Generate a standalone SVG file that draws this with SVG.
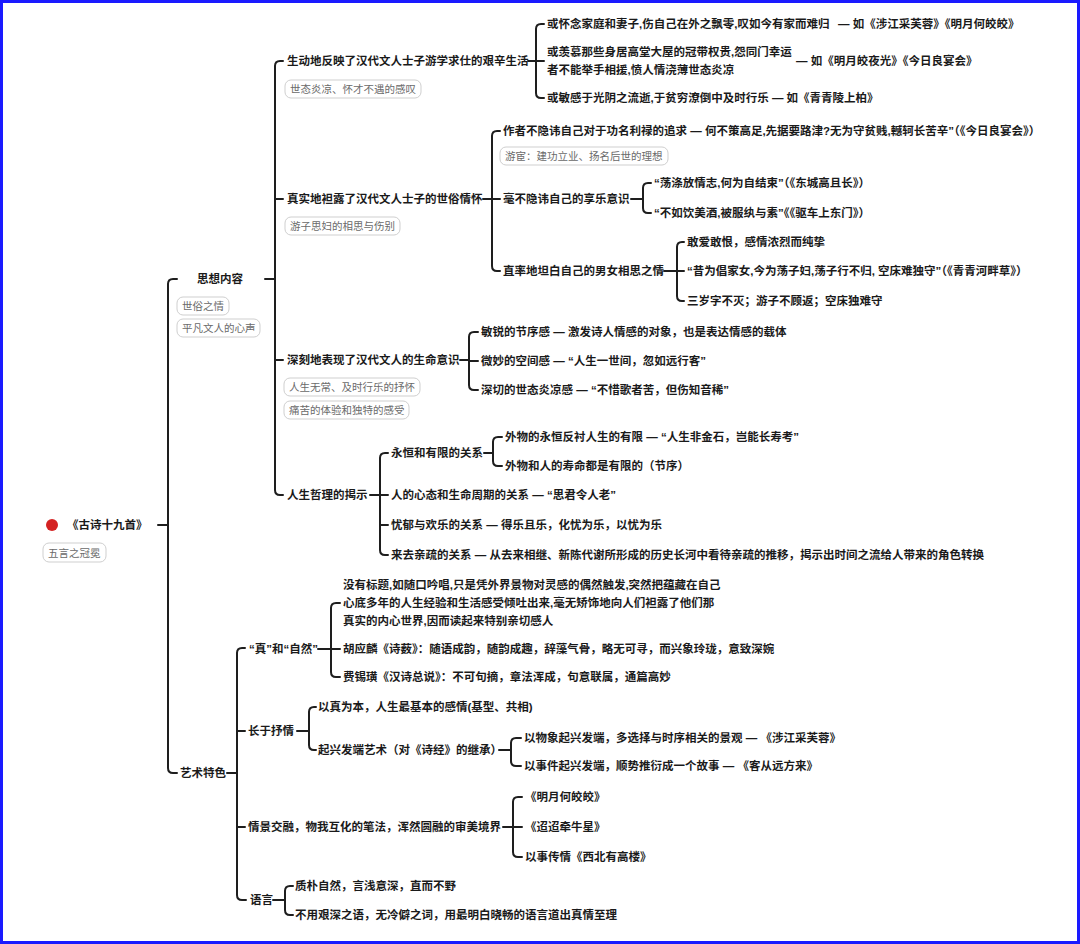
<svg xmlns="http://www.w3.org/2000/svg" width="1080" height="944" viewBox="0 0 1080 944">
<style>
.t{font-family:"Liberation Sans","Noto Sans CJK SC",sans-serif;font-size:11.5px;fill:#1a1a1a;font-weight:700}
.lb{font-family:"Liberation Sans","Noto Sans CJK SC",sans-serif;font-size:10.5px;fill:#6a6a6a;font-weight:400}
.box{fill:#fff;stroke:#cfcfcf;stroke-width:1}
.c{fill:none;stroke:#1e1e1e;stroke-width:2;stroke-linecap:round;stroke-linejoin:round}
</style>
<rect x="0" y="0" width="1080" height="944" fill="#fff"/>
<rect x="1.5" y="1.5" width="1077" height="941" fill="none" stroke="#1a1aff" stroke-width="3"/>
<g id="connectors">
<path class="c" d="M158,525 H168 M177,279 H173 Q168,279 168,284 V768 Q168,773 173,773 H177"/>
<path class="c" d="M265,279 H275 M283,61 H280 Q275,61 275,66 V490 Q275,495 280,495 H283 M275,199 H283 M275,360 H283"/>
<path class="c" d="M528,61 H536 M544,24 H541 Q536,24 536,29 V93 Q536,98 541,98 H544 M536,61 H544"/>
<path class="c" d="M483,199 H492 M500,131 H497 Q492,131 492,136 V266 Q492,271 497,271 H500 M492,199 H500"/>
<path class="c" d="M631,199 H643 M651,183 H648 Q643,183 643,188 V208 Q643,213 648,213 H651"/>
<path class="c" d="M664,271 H677 M684,242 H682 Q677,242 677,247 V296 Q677,301 682,301 H684 M677,271 H684"/>
<path class="c" d="M460,360 H469 M478,332 H474 Q469,332 469,337 V385 Q469,390 474,390 H478 M469,361 H478"/>
<path class="c" d="M370,495 H380 M388,453 H385 Q380,453 380,458 V550 Q380,555 385,555 H388 M380,495 H388 M380,525 H388"/>
<path class="c" d="M484,453 H493 M502,437 H498 Q493,437 493,442 V461 Q493,466 498,466 H502"/>
<path class="c" d="M227,773 H237 M245,648 H242 Q237,648 237,653 V895 Q237,900 242,900 H246 M237,731 H245 M237,827 H245"/>
<path class="c" d="M318,649 H331 M340,603 H336 Q331,603 331,608 V672 Q331,677 336,677 H340 M331,649 H340"/>
<path class="c" d="M297,731 H309 M316,707 H314 Q309,707 309,712 V745 Q309,750 314,750 H316"/>
<path class="c" d="M499,750 H511 M521,738 H516 Q511,738 511,743 V761 Q511,766 516,766 H521"/>
<path class="c" d="M503,827 H513 M522,797 H518 Q513,797 513,802 V852 Q513,857 518,857 H522 M513,827 H522"/>
<path class="c" d="M273,900 H285 M293,886 H290 Q285,886 285,891 V910 Q285,915 290,915 H293"/>
</g>
<g id="root">
<circle cx="52" cy="525" r="6" fill="#d42222"/>
<text class="t" x="67" y="529">《古诗十九首》</text>
<rect class="box" x="43" y="543" width="63" height="19" rx="6"/>
<text class="lb" x="48" y="556.5">五言之冠冕</text>
</g>
<g id="n-sixiang">
<text class="t" x="197" y="283">思想内容</text>
<rect class="box" x="177" y="297" width="52" height="18" rx="6"/>
<text class="lb" x="182" y="310">世俗之情</text>
<rect class="box" x="177" y="319" width="83" height="18" rx="6"/>
<text class="lb" x="182" y="332">平凡文人的心声</text>
</g>
<g id="n1">
<text class="t" x="287" y="65">生动地反映了汉代文人士子游学求仕的艰辛生活</text>
<rect class="box" x="285" y="80" width="136" height="18" rx="6"/>
<text class="lb" x="290" y="93">世态炎凉、怀才不遇的感叹</text>
</g>
<g id="n1a"><text class="t" x="547" y="28">或怀念家庭和妻子,伤自己在外之飘零,叹如今有家而难归<tspan x="838">— 如《涉江采芙蓉》《明月何皎皎》</tspan></text></g>
<g id="n1b"><text class="t" x="547" y="56">或羡慕那些身居高堂大屋的冠带权贵,怨同门幸运</text><text class="t" x="547" y="74">者不能举手相援,愤人情浇薄世态炎凉</text><text class="t" x="796" y="65">— 如《明月皎夜光》《今日良宴会》</text></g>
<g id="n1c"><text class="t" x="547" y="102">或敏感于光阴之流逝,于贫穷潦倒中及时行乐 — 如《青青陵上柏》</text></g>
<g id="n2">
<text class="t" x="287" y="203">真实地袒露了汉代文人士子的世俗情怀</text>
<rect class="box" x="285" y="217" width="115" height="18" rx="6"/>
<text class="lb" x="290" y="230">游子思妇的相思与伤别</text>
</g>
<g id="n2a">
<text class="t" x="503" y="135">作者不隐讳自己对于功名利禄的追求 — 何不策高足,先据要路津?无为守贫贱,轗轲长苦辛”（《今日良宴会》）</text>
<rect class="box" x="500" y="147" width="168" height="18" rx="6"/>
<text class="lb" x="505" y="160">游宦：建功立业、扬名后世的理想</text>
</g>
<g id="n2b"><text class="t" x="503" y="203">毫不隐讳自己的享乐意识</text></g>
<g id="n2b1"><text class="t" x="654" y="187">“荡涤放情志,何为自结束”（《东城高且长》）</text></g>
<g id="n2b2"><text class="t" x="654" y="217">“不如饮美酒,被服纨与素”《《驱车上东门》）</text></g>
<g id="n2c"><text class="t" x="503" y="275">直率地坦白自己的男女相思之情</text></g>
<g id="n2c1"><text class="t" x="687" y="246">敢爱敢恨，感情浓烈而纯挚</text></g>
<g id="n2c2"><text class="t" x="687" y="275">“昔为倡家女,今为荡子妇,荡子行不归, 空床难独守”（《青青河畔草》）</text></g>
<g id="n2c3"><text class="t" x="687" y="305">三岁字不灭；游子不顾返；空床独难守</text></g>
<g id="n3">
<text class="t" x="287" y="364">深刻地表现了汉代文人的生命意识</text>
<rect class="box" x="284" y="378" width="136" height="18" rx="6"/>
<text class="lb" x="289" y="391">人生无常、及时行乐的抒怀</text>
<rect class="box" x="284" y="401" width="125" height="18" rx="6"/>
<text class="lb" x="289" y="414">痛苦的体验和独特的感受</text>
</g>
<g id="n3a"><text class="t" x="481" y="336">敏锐的节序感 — 激发诗人情感的对象，也是表达情感的载体</text></g>
<g id="n3b"><text class="t" x="481" y="365">微妙的空间感 — “人生一世间，忽如远行客”</text></g>
<g id="n3c"><text class="t" x="481" y="394">深切的世态炎凉感 — “不惜歌者苦，但伤知音稀”</text></g>
<g id="n4"><text class="t" x="287" y="499">人生哲理的揭示</text></g>
<g id="n4a"><text class="t" x="391" y="457">永恒和有限的关系</text></g>
<g id="n4a1"><text class="t" x="505" y="441">外物的永恒反衬人生的有限 — “人生非金石，岂能长寿考”</text></g>
<g id="n4a2"><text class="t" x="505" y="470">外物和人的寿命都是有限的（节序）</text></g>
<g id="n4b"><text class="t" x="391" y="499">人的心态和生命周期的关系 — “思君令人老”</text></g>
<g id="n4c"><text class="t" x="391" y="529">忧郁与欢乐的关系 — 得乐且乐，化忧为乐，以忧为乐</text></g>
<g id="n4d"><text class="t" x="391" y="559">来去亲疏的关系 — 从去来相继、新陈代谢所形成的历史长河中看待亲疏的推移，揭示出时间之流给人带来的角色转换</text></g>
<g id="n-yishu"><text class="t" x="180" y="777">艺术特色</text></g>
<g id="a1"><text class="t" x="249" y="653">“真”和“自然”</text></g>
<g id="a1a"><text class="t" x="343" y="589">没有标题,如随口吟唱,只是凭外界景物对灵感的偶然触发,突然把蕴藏在自己</text><text class="t" x="343" y="607">心底多年的人生经验和生活感受倾吐出来,毫无矫饰地向人们袒露了他们那</text><text class="t" x="343" y="625">真实的内心世界,因而读起来特别亲切感人</text></g>
<g id="a1b"><text class="t" x="343" y="653">胡应麟《诗薮》：随语成韵，随韵成趣，辞藻气骨，略无可寻，而兴象玲珑，意致深婉</text></g>
<g id="a1c"><text class="t" x="343" y="681">费锡璜《汉诗总说》：不可句摘，章法浑成，句意联属，通篇高妙</text></g>
<g id="a2"><text class="t" x="248" y="735">长于抒情</text></g>
<g id="a2a"><text class="t" x="318" y="711">以真为本，人生最基本的感情(基型、共相)</text></g>
<g id="a2b"><text class="t" x="318" y="754">起兴发端艺术（对《诗经》的继承）</text></g>
<g id="a2b1"><text class="t" x="524" y="742">以物象起兴发端，多选择与时序相关的景观 — 《涉江采芙蓉》</text></g>
<g id="a2b2"><text class="t" x="524" y="770">以事件起兴发端，顺势推衍成一个故事 — 《客从远方来》</text></g>
<g id="a3"><text class="t" x="248" y="831">情景交融，物我互化的笔法，浑然圆融的审美境界</text></g>
<g id="a3a"><text class="t" x="525" y="801">《明月何皎皎》</text></g>
<g id="a3b"><text class="t" x="525" y="831">《迢迢牵牛星》</text></g>
<g id="a3c"><text class="t" x="525" y="861">以事传情《西北有高楼》</text></g>
<g id="a4"><text class="t" x="250" y="904">语言</text></g>
<g id="a4a"><text class="t" x="295" y="890">质朴自然，言浅意深，直而不野</text></g>
<g id="a4b"><text class="t" x="295" y="919">不用艰深之语，无冷僻之词，用最明白晓畅的语言道出真情至理</text></g>
</svg>
